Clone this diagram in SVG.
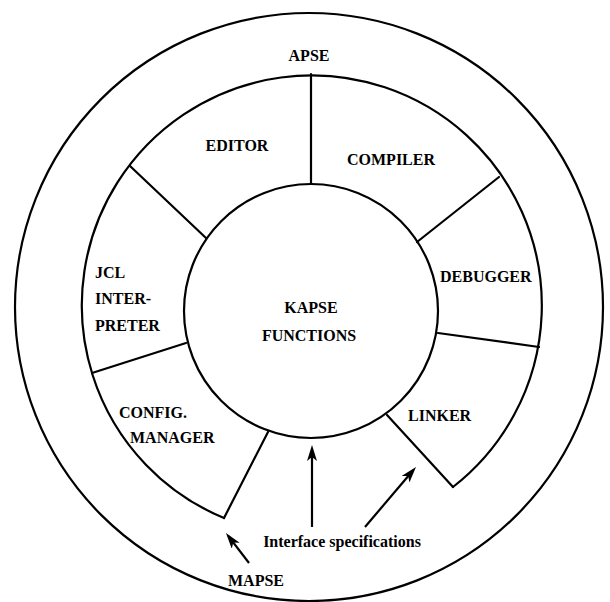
<svg xmlns="http://www.w3.org/2000/svg" width="610" height="602" viewBox="0 0 610 602">
<style>
.ln{fill:none;stroke:#000;stroke-width:2.2;stroke-linecap:round}
.t{font-family:"Liberation Serif","Times New Roman",serif;font-weight:bold;font-size:16px;fill:#000}
.c{text-anchor:middle}
.ar{fill:none;stroke:#000;stroke-width:2.2;marker-end:url(#ah)}
</style>
<defs>
<marker id="ah" markerUnits="userSpaceOnUse" markerWidth="17" markerHeight="11" refX="12" refY="5" orient="auto">
<path d="M0,0 L16,5 L0,10 L4,5 z" fill="#000"/>
</marker>
</defs>
<rect width="610" height="602" fill="#fff"/>
<g id="apse">
<circle class="ln" cx="309" cy="307" r="294"/>
<text class="t c" x="309" y="61">APSE</text>
</g>
<g id="tools-ring">
<path class="ln" d="M224,518 A230,230 0 1 1 453,487"/>
</g>
<g id="kapse">
<circle class="ln" cx="311" cy="311" r="127"/>
<text class="t c" x="311" y="313">KAPSE</text>
<text class="t c" x="309" y="341">FUNCTIONS</text>
</g>
<g id="editor"><text class="t c" x="237" y="151">EDITOR</text></g>
<g id="compiler"><text class="t c" x="391" y="165">COMPILER</text></g>
<g id="debugger"><text class="t" x="440" y="282">DEBUGGER</text></g>
<g id="linker"><text class="t" x="408" y="421">LINKER</text></g>
<g id="config-manager">
<text class="t" x="119" y="418">CONFIG.</text>
<text class="t" x="130" y="443">MANAGER</text>
</g>
<g id="jcl-interpreter">
<text class="t" x="95" y="278">JCL</text>
<text class="t" x="95" y="304">INTER-</text>
<text class="t" x="95" y="331">PRETER</text>
</g>
<g id="interface-spec"><text class="t c" x="342" y="547">Interface specifications</text></g>
<g id="mapse"><text class="t c" x="256" y="586">MAPSE</text></g>
<g id="connectors">
<line class="ln" x1="311" y1="74" x2="311" y2="184"/>
<line class="ln" x1="130" y1="166" x2="206" y2="238"/>
<line class="ln" x1="499" y1="177" x2="417" y2="242"/>
<line class="ln" x1="92" y1="373" x2="186" y2="343"/>
<line class="ln" x1="438" y1="333" x2="539" y2="347"/>
<line class="ln" x1="268" y1="432" x2="224" y2="518"/>
<line class="ln" x1="387" y1="415" x2="453" y2="487"/>
<line class="ar" x1="312" y1="527" x2="312" y2="449"/>
<line class="ar" x1="365" y1="527" x2="413.4" y2="470"/>
<line class="ar" x1="249" y1="563" x2="228.4" y2="536.2"/>
</g>
</svg>
